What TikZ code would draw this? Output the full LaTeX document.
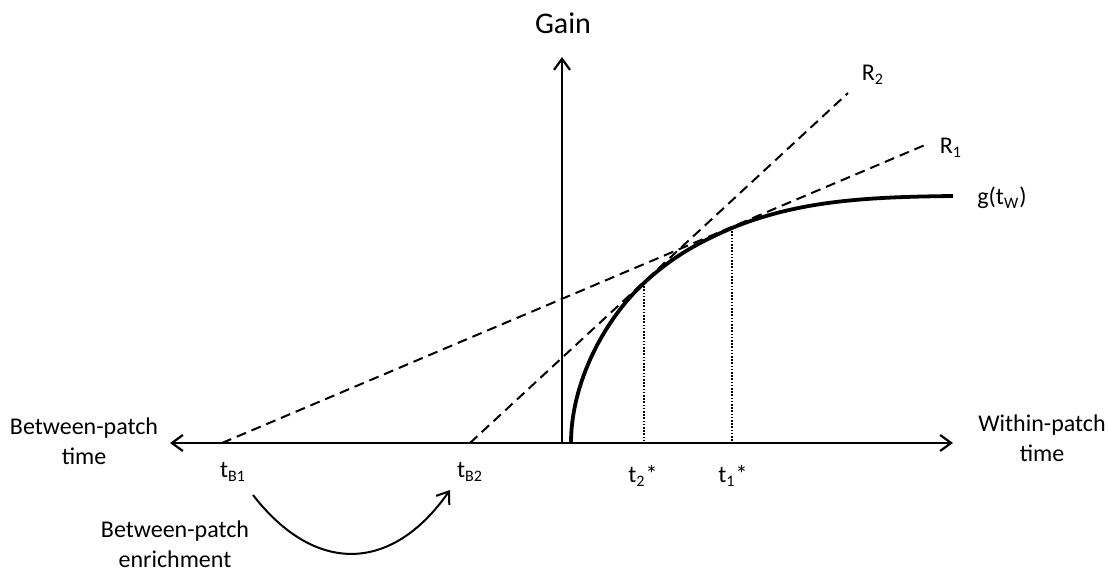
\documentclass[tikz,border=0pt]{standalone}
\usepackage{fontspec}
\setmainfont{Carlito}
\usetikzlibrary{arrows.meta}

\begin{document}
\begin{tikzpicture}[x=0.5pt, y=-0.5pt, >={Straight Barb[length=5.5pt,width=8pt]},
  lbl/.style={font=\fontsize{12}{15}\selectfont, inner sep=0pt, align=center},
  axe/.style={line width=1.1pt},
  gain/.style={line width=1.9pt},
  tang/.style={line width=1pt, dash pattern=on 5pt off 3pt},
  proj/.style={line width=0.8pt, dash pattern=on 0.8pt off 0.8pt}]
  \useasboundingbox (0,0) rectangle (1108,571);
  \coordinate (O) at (562,443);
  \coordinate (xL) at (170,443);
  \coordinate (xR) at (953,443);
  \coordinate (yT) at (562,57);
  \coordinate (B1) at (222,443);
  \coordinate (B2) at (470,443);
  \coordinate (C0) at (571,443);
  \coordinate (T2) at (644,283);
  \coordinate (T1) at (732,228);
  \coordinate (gEnd) at (953,196);
  \coordinate (R1end) at (925,145);
  \coordinate (R2end) at (848,93);
  \coordinate (eA) at (253,495);
  \coordinate (eB) at (450,490);
  \node[lbl, font=\fontsize{15}{18}\selectfont] (gainlbl) at (563,23) {Gain};
  \node[lbl] (between) at (84,441) {Between-patch\\time};
  \node[lbl] (within) at (1042,438) {Within-patch\\time};
  \node[lbl] (tB1) at (233,472) {t\textsubscript{B1}};
  \node[lbl] (tB2) at (470,472) {t\textsubscript{B2}};
  \node[lbl] (t2) at (643,476) {t\textsubscript{2}*};
  \node[lbl] (t1) at (733,476) {t\textsubscript{1}*};
  \node[lbl] (R2) at (873,75) {R\textsubscript{2}};
  \node[lbl] (R1) at (951,148) {R\textsubscript{1}};
  \node[lbl, anchor=west] (g) at (977,198) {g(t\textsubscript{W})};
  \node[lbl] (enrich) at (175,544) {Between-patch\\enrichment};
  \draw[axe, <->] (xL) -- (xR);
  \draw[axe, ->] (O) -- (yT);
  \draw[tang] (B1) -- (R1end);
  \draw[tang] (B2) -- (R2end);
  \draw[proj] (T2) -- (T2 |- O);
  \draw[proj] (T1) -- (T1 |- O);
  \draw[gain] (C0) .. controls (571,383) and (604,320) .. (T2)
    .. controls (674,255) and (702,241) .. (T1)
    .. controls (800,200) and (870,197) .. (gEnd);
  \draw[line width=1pt, ->] (eA) .. controls (315,575) and (392,573) .. (eB);
\end{tikzpicture}
\end{document}
